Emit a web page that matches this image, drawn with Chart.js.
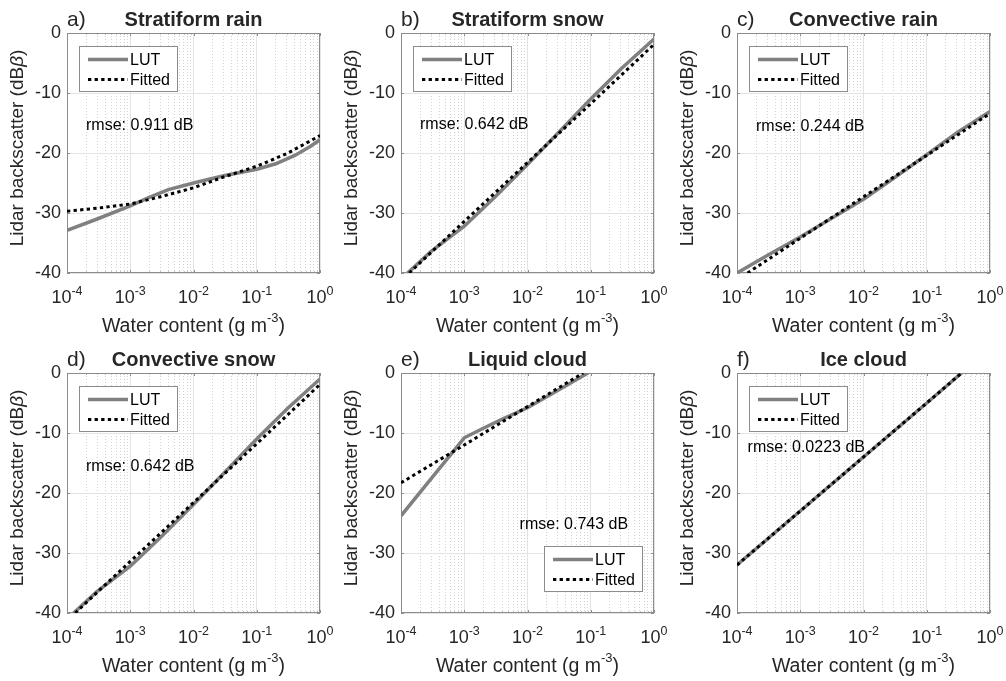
<!DOCTYPE html>
<html>
<head>
<meta charset="utf-8">
<title>Lidar backscatter vs water content</title>
<script src="https://cdn.jsdelivr.net/npm/chart.js@4.4.1/dist/chart.umd.min.js"></script>
<style>
  body { margin: 0; background: #fff; }
  #figure { position: relative; width: 1006px; height: 681px; overflow: hidden; }
  #figure canvas { position: absolute; }
</style>
</head>
<body>
<div id="figure"></div>
<script>
// axis ticks
const xDecades = [1e-4, 1e-3, 1e-2, 1e-1, 1];
const xDecadeExps = ['-4', '-3', '-2', '-1', '0'];
const xMinorSteps = [2, 3, 4, 5, 6, 7, 8, 9];
const yTickValues = [-40, -30, -20, -10, 0];

const panelLetters = ['a)', 'b)', 'c)', 'd)', 'e)', 'f)'];
const panelTitles = ['Stratiform rain', 'Stratiform snow', 'Convective rain', 'Convective snow', 'Liquid cloud', 'Ice cloud'];
const rmseLabels = ['rmse: 0.911 dB', 'rmse: 0.642 dB', 'rmse: 0.244 dB', 'rmse: 0.642 dB', 'rmse: 0.743 dB', 'rmse: 0.0223 dB'];
const seriesNames = ['LUT', 'Fitted'];

// a) stratiform rain
const srLutX = [1e-4, 3e-4, 1e-3, 2e-3, 4e-3, 1e-2, 3e-2, 1e-1, 2e-1, 4e-1, 7e-1, 1];
const srLutY = [-32.9, -31.0, -28.8, -27.4, -26.1, -25.0, -23.8, -22.7, -21.8, -20.4, -18.9, -17.8];
const srFitX = [1e-4, 3e-4, 1e-3, 3e-3, 1e-2, 3e-2, 1e-1, 3e-1, 1];
const srFitY = [-29.7, -29.2, -28.5, -27.3, -25.8, -24.0, -22.2, -20.1, -17.1];

// b) stratiform snow
const ssLutX = [1.27e-4, 3e-4, 1e-3, 3e-3, 1e-2, 3.5e-2, 1e-1, 3e-1, 1];
const ssLutY = [-40.0, -36.4, -32.2, -27.4, -21.9, -16.0, -11.0, -6.0, -1.0];
const ssFitX = [1.35e-4, 1e-3, 1e-2, 1e-1, 1];
const ssFitY = [-40.0, -31.4, -21.6, -11.8, -1.9];

// c) convective rain
const crLutX = [1e-4, 3e-4, 1e-3, 3e-3, 1e-2, 3e-2, 1e-1, 3e-1, 1];
const crLutY = [-40.0, -37.1, -34.0, -31.0, -27.7, -24.2, -20.3, -16.6, -13.1];
const crFitX = [1.47e-4, 1e-3, 1e-2, 1e-1, 1];
const crFitY = [-40.0, -34.2, -27.3, -20.4, -13.4];

// d) convective snow
const csLutX = [1.27e-4, 3e-4, 1e-3, 3e-3, 1e-2, 3.5e-2, 1e-1, 3e-1, 1];
const csLutY = [-40.0, -36.4, -32.2, -27.4, -21.9, -16.0, -11.0, -6.0, -1.0];
const csFitX = [1.35e-4, 1e-3, 1e-2, 1e-1, 1];
const csFitY = [-40.0, -31.4, -21.6, -11.8, -1.9];

// e) liquid cloud
const lcLutX = [1e-4, 1e-3, 2e-3, 4e-3, 1e-2, 3e-2, 9e-2];
const lcLutY = [-23.8, -10.8, -9.2, -7.7, -5.8, -2.9, 0];
const lcFitX = [1e-4, 1e-3, 1e-2, 7.6e-2];
const lcFitY = [-18.3, -12.0, -5.6, 0];

// f) ice cloud
const icLutX = [1e-4, 1e-3, 1e-2, 1e-1, 0.356];
const icLutY = [-32.0, -23.0, -14.0, -5.0, 0];
const icFitX = [1e-4, 1e-3, 1e-2, 1e-1, 0.356];
const icFitY = [-32.0, -23.0, -14.0, -5.0, 0];

const series = [
  [srLutX, srLutY, srFitX, srFitY],
  [ssLutX, ssLutY, ssFitX, ssFitY],
  [crLutX, crLutY, crFitX, crFitY],
  [csLutX, csLutY, csFitX, csFitY],
  [lcLutX, lcLutY, lcFitX, lcFitY],
  [icLutX, icLutY, icFitX, icFitY]
];

// where the rmse text sits, in data units
const rmseAnchors = [[2e-4, -15.5], [2e-4, -15.3], [2e-4, -15.6], [2e-4, -15.6], [7.5e-3, -25.2], [1.47e-4, -12.5]];
const legendCorners = ['topleft', 'topleft', 'topleft', 'topleft', 'bottomright', 'topleft'];

// layout (pixels)
const FONT = "'Liberation Sans', Arial, Helvetica, sans-serif";
const TEXT = '#262626';
const PLOT_W = 253, PLOT_H = 240;
const LEFTS = [67, 401, 737], TOPS = [33, 373];
const PAD_L = 72, PAD_T = 36, PAD_R = 28, PAD_B = 72;

const isDecade = v => Math.abs(Math.log10(v) - Math.round(Math.log10(v))) < 1e-9;

function xTickList(){
  let list = [];
  xDecades.forEach((d, i) => {
    list.push(d);
    if(i < xDecades.length - 1)
      xMinorSteps.forEach(m => list.push(m * d));
  });
  return list;
}

function toPoints(xs, ys){
  return xs.map((x, i) => ({x: x, y: ys[i]}));
}

// box, inward ticks, titles, legend, annotation
const decor = {
  id: 'decor',
  beforeDatasetsDraw(chart, args, o){
    const {ctx, chartArea: a} = chart;
    const xs = chart.scales.x, ys = chart.scales.y;
    ctx.save();
    ctx.strokeStyle = '#8c8c8c';
    ctx.lineWidth = 1;
    ctx.beginPath();
    xs.ticks.forEach(t => {
      const px = Math.round(xs.getPixelForValue(t.value)) + 0.5;
      const len = isDecade(t.value) ? 3 : 1.5;
      ctx.moveTo(px, a.bottom); ctx.lineTo(px, a.bottom - len);
      ctx.moveTo(px, a.top); ctx.lineTo(px, a.top + len);
    });
    ys.ticks.forEach(t => {
      const py = Math.round(ys.getPixelForValue(t.value)) + 0.5;
      ctx.moveTo(a.left, py); ctx.lineTo(a.left + 3, py);
      ctx.moveTo(a.right, py); ctx.lineTo(a.right - 3, py);
    });
    ctx.stroke();
    ctx.strokeRect(a.left + 0.5, a.top + 0.5, a.right - a.left - 1, a.bottom - a.top - 1);
    ctx.restore();
  },
  afterDraw(chart, args, o){
    const {ctx, chartArea: a} = chart;
    const xs = chart.scales.x, ys = chart.scales.y;
    ctx.save();
    ctx.fillStyle = TEXT;

    // x tick labels as 10^n
    ctx.textBaseline = 'alphabetic';
    xDecades.forEach((d, i) => {
      const px = xs.getPixelForValue(d);
      ctx.font = '18px ' + FONT;
      const wBase = ctx.measureText('10').width;
      ctx.font = '12.5px ' + FONT;
      const wExp = ctx.measureText(xDecadeExps[i]).width;
      const x0 = px - (wBase + wExp) / 2;
      ctx.textAlign = 'left';
      ctx.font = '18px ' + FONT;
      ctx.fillText('10', x0, a.bottom + 30);
      ctx.font = '12.5px ' + FONT;
      ctx.fillText(xDecadeExps[i], x0 + wBase, a.bottom + 22);
    });

    // x title
    const cx = (a.left + a.right) / 2;
    ctx.font = '19.5px ' + FONT;
    const t1 = 'Water content (g m', t3 = ')';
    const w1 = ctx.measureText(t1).width, w3 = ctx.measureText(t3).width;
    ctx.font = '13px ' + FONT;
    const w2 = ctx.measureText('-3').width;
    let tx = cx - (w1 + w2 + w3) / 2;
    const ty = a.bottom + 59;
    ctx.font = '19.5px ' + FONT;
    ctx.fillText(t1, tx, ty);
    ctx.font = '13px ' + FONT;
    ctx.fillText('-3', tx + w1, ty - 10);
    ctx.font = '19.5px ' + FONT;
    ctx.fillText(t3, tx + w1 + w2, ty);

    // y title, rotated
    ctx.save();
    ctx.translate(a.left - 49, (a.top + a.bottom) / 2 - 5);
    ctx.rotate(-Math.PI / 2);
    ctx.textBaseline = 'middle';
    ctx.font = '19px ' + FONT;
    const y1 = 'Lidar backscatter (dB';
    const yw1 = ctx.measureText(y1).width, yw3 = ctx.measureText(')').width;
    ctx.font = 'italic 19px ' + FONT;
    const yw2 = ctx.measureText('\u03b2').width;
    let yx = -(yw1 + yw2 + yw3) / 2;
    ctx.font = '19px ' + FONT;
    ctx.fillText(y1, yx, 0);
    ctx.font = 'italic 19px ' + FONT;
    ctx.fillText('\u03b2', yx + yw1, 0);
    ctx.font = '19px ' + FONT;
    ctx.fillText(')', yx + yw1 + yw2, 0);
    ctx.restore();

    // panel letter and title
    ctx.textAlign = 'left';
    ctx.font = '21px ' + FONT;
    ctx.fillText(o.letter, a.left, a.top - 7);
    ctx.textAlign = 'center';
    ctx.font = 'bold 20px ' + FONT;
    ctx.fillText(o.title, cx, a.top - 7);

    // rmse annotation
    ctx.textAlign = 'left';
    ctx.textBaseline = 'middle';
    ctx.font = '16px ' + FONT;
    ctx.fillStyle = '#000';
    ctx.fillText(o.rmse, xs.getPixelForValue(o.rmseAt[0]), ys.getPixelForValue(o.rmseAt[1]));

    // legend box
    const bw = 98, bh = 45;
    let bx = a.left + 12, by = a.top + 13;
    if(o.corner === 'bottomright'){
      bx = a.right - 12 - bw;
      by = a.bottom - 22 - bh;
    }
    ctx.fillStyle = '#fff';
    ctx.fillRect(bx, by, bw, bh);
    ctx.strokeStyle = '#8c8c8c';
    ctx.lineWidth = 1;
    ctx.strokeRect(Math.round(bx) + 0.5, Math.round(by) + 0.5, bw, bh);
    chart.data.datasets.forEach((ds, i) => {
      const ry = by + 13.5 + i * 20;
      ctx.save();
      ctx.strokeStyle = ds.borderColor;
      ctx.lineWidth = ds.borderWidth;
      ctx.setLineDash(ds.borderDash || []);
      ctx.beginPath();
      ctx.moveTo(bx + 9, ry);
      ctx.lineTo(bx + 49, ry);
      ctx.stroke();
      ctx.restore();
      ctx.fillStyle = '#000';
      ctx.font = '16px ' + FONT;
      ctx.fillText(ds.label, bx + 51, ry + 1);
    });
    ctx.restore();
  }
};

function makePanel(i){
  const col = i % 3, row = Math.floor(i / 3);
  const canvas = document.createElement('canvas');
  const w = PAD_L + PLOT_W + PAD_R, h = PAD_T + PLOT_H + PAD_B;
  canvas.width = w; canvas.height = h;
  canvas.style.width = w + 'px'; canvas.style.height = h + 'px';
  canvas.style.left = (LEFTS[col] - PAD_L) + 'px';
  canvas.style.top = (TOPS[row] - PAD_T) + 'px';
  document.querySelector('#figure').appendChild(canvas);

  const [lx, ly, fx, fy] = series[i];
  return new Chart(canvas, {
    type: 'line',
    data: {
      datasets: [{
        label: seriesNames[0],
        data: toPoints(lx, ly),
        borderColor: '#808080',
        borderWidth: 3.5,
        pointRadius: 0,
        tension: 0,
        order: 1
      }, {
        label: seriesNames[1],
        data: toPoints(fx, fy),
        borderColor: '#000000',
        borderWidth: 3,
        borderDash: [3.3, 3.3],
        pointRadius: 0,
        tension: 0,
        order: 0
      }]
    },
    options: {
      responsive: false,
      animation: false,
      devicePixelRatio: 1,
      layout: {padding: {left: 0, top: PAD_T, right: PAD_R, bottom: 0}},
      plugins: {
        legend: {display: false},
        tooltip: {enabled: false},
        decor: {
          letter: panelLetters[i],
          title: panelTitles[i],
          rmse: rmseLabels[i],
          rmseAt: rmseAnchors[i],
          corner: legendCorners[i]
        }
      },
      scales: {
        x: {
          type: 'logarithmic',
          min: xDecades[0],
          max: xDecades[xDecades.length - 1],
          afterBuildTicks: s => { s.ticks = xTickList().map(v => ({value: v, major: isDecade(v)})); },
          afterFit: s => { s.height = PAD_B; },
          ticks: {display: false, autoSkip: false},
          grid: {
            drawTicks: false,
            lineWidth: 1,
            color: c => (c.tick && !isDecade(c.tick.value)) ? '#d2d2d2' : '#e3e3e3'
          },
          border: {
            display: false,
            dash: c => (c.tick && !isDecade(c.tick.value)) ? [1, 2] : []
          }
        },
        y: {
          type: 'linear',
          min: yTickValues[0],
          max: yTickValues[yTickValues.length - 1],
          afterBuildTicks: s => { s.ticks = yTickValues.map(v => ({value: v})); },
          afterFit: s => { s.width = PAD_L; },
          ticks: {
            color: TEXT,
            padding: 6,
            font: {family: FONT, size: 18}
          },
          grid: {drawTicks: false, color: '#e3e3e3', lineWidth: 1},
          border: {display: false}
        }
      }
    },
    plugins: [decor]
  });
}

for(let i = 0; i < 6; i++){
  makePanel(i);
}
</script>
</body>
</html>
